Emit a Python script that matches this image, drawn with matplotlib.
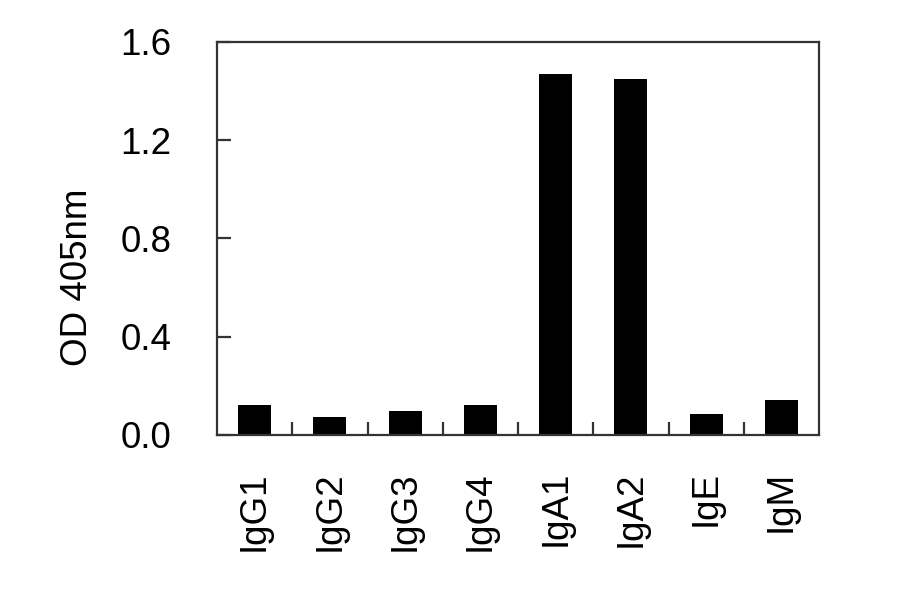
import matplotlib
matplotlib.use("Agg")
import matplotlib.pyplot as plt
import numpy as np

# Werte
kategorien = ["IgG1", "IgG2", "IgG3", "IgG4", "IgA1", "IgA2", "IgE", "IgM"]
od_werte = [0.122, 0.073, 0.096, 0.122, 1.47, 1.45, 0.084, 0.142]
y_ticks = [0.0, 0.4, 0.8, 1.2, 1.6]

plt.rcParams["font.family"] = ["Liberation Sans", "DejaVu Sans"]

fig = plt.figure(figsize=(9, 5.94), dpi=100)
ax = fig.add_axes([0.2411, 0.2677, 0.669, 0.6616])

x = np.arange(len(kategorien)) + 0.5
ax.bar(x, od_werte, width=0.44, color="black")

ax.set_xlim(0, len(kategorien))
ax.set_ylim(0, 1.6)

# Achsenrahmen
for spine in ax.spines.values():
    spine.set_linewidth(1.6)
    spine.set_color("#333333")

# x-Achse: Beschriftung in der Mitte, Striche an den Grenzen
ax.set_xticks(x)
ax.set_xticklabels(kategorien, rotation=90, fontsize=26.5, va="top", ha="center")
ax.set_xticks(np.arange(1, len(kategorien)), minor=True)
ax.tick_params(axis="x", which="major", length=0, pad=26)
ax.tick_params(axis="x", which="minor", direction="in", length=9.6, width=1.6, color="#333333")

# y-Achse
ax.set_yticks(y_ticks)
ax.set_yticklabels([f"{v:.1f}" for v in y_ticks], fontsize=26.5)
ax.tick_params(axis="y", direction="in", length=10, width=1.6, color="#333333", pad=33)

ax.set_ylabel("OD 405nm", fontsize=26.5, va="center")
ax.yaxis.set_label_coords(-0.231, 0.402)

fig.savefig("out.png", dpi=100)
